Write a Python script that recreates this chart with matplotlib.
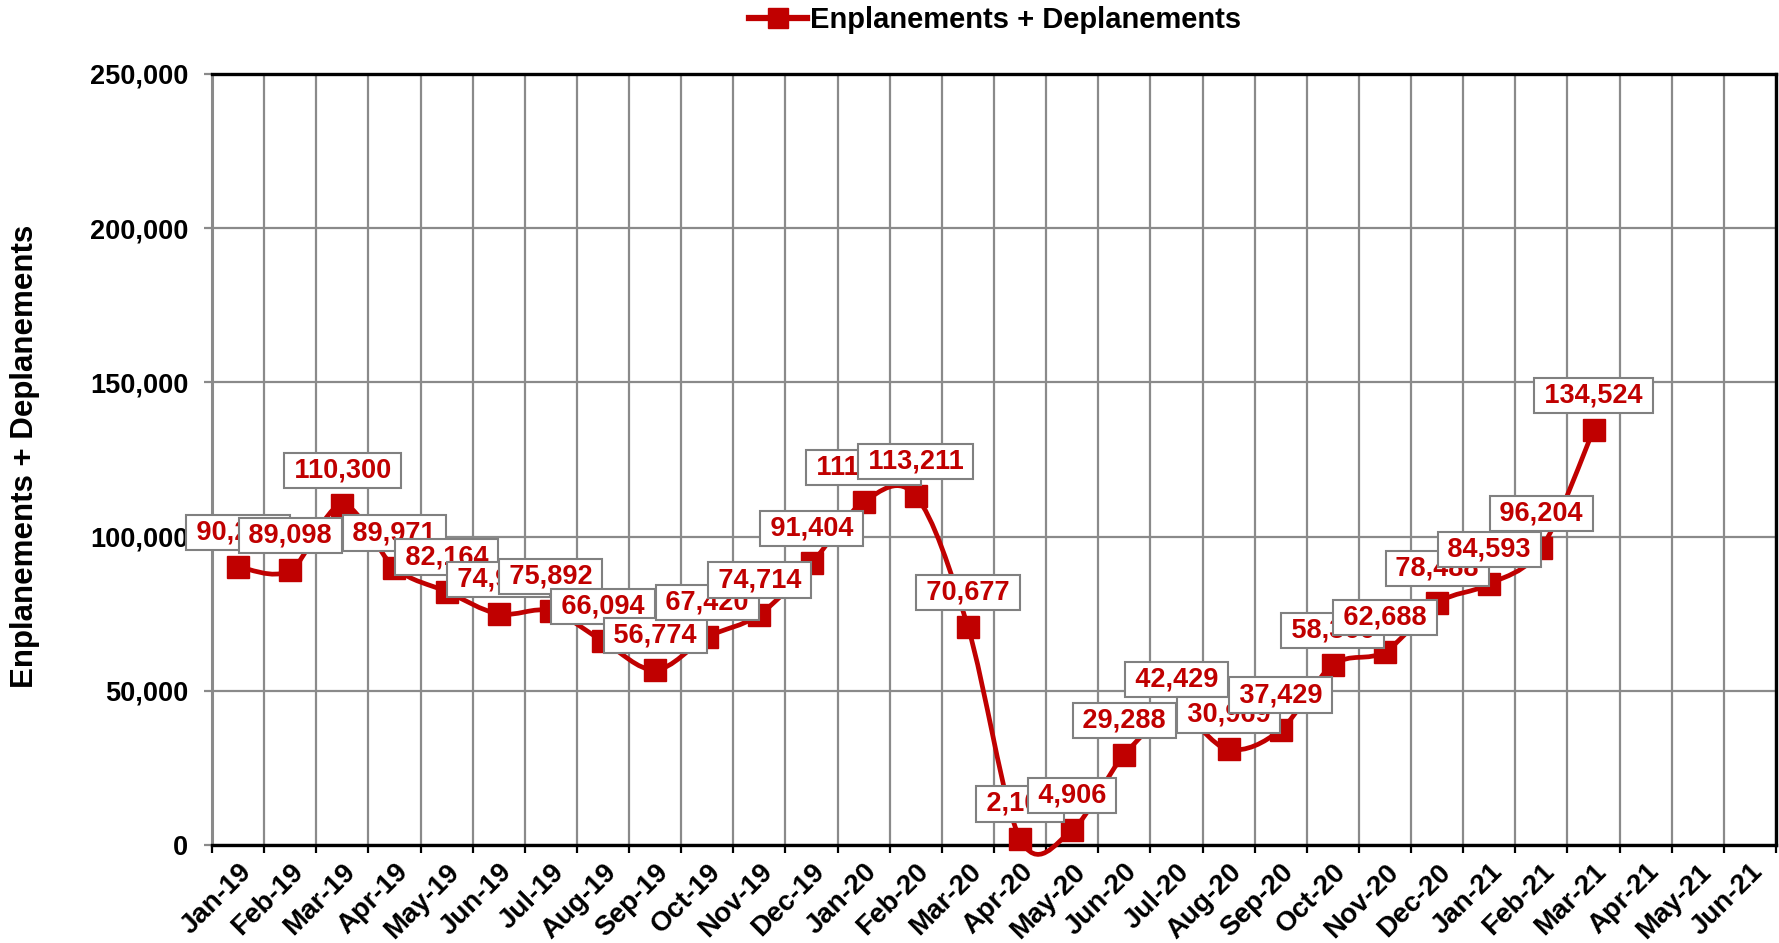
import numpy as np
import matplotlib.pyplot as plt
from matplotlib.path import Path
from matplotlib.patches import PathPatch
from matplotlib.lines import Line2D
from matplotlib.transforms import ScaledTranslation

plt.rcParams['font.family'] = ['Liberation Sans', 'DejaVu Sans']
plt.rcParams['font.weight'] = 'bold'

# month labels on the x axis (Jan-19 .. Jun-21)
months = ['Jan-19', 'Feb-19', 'Mar-19', 'Apr-19', 'May-19', 'Jun-19', 'Jul-19', 'Aug-19',
          'Sep-19', 'Oct-19', 'Nov-19', 'Dec-19', 'Jan-20', 'Feb-20', 'Mar-20', 'Apr-20',
          'May-20', 'Jun-20', 'Jul-20', 'Aug-20', 'Sep-20', 'Oct-20', 'Nov-20', 'Dec-20',
          'Jan-21', 'Feb-21', 'Mar-21', 'Apr-21', 'May-21', 'Jun-21']

# enplanements + deplanements, Jan-19 .. Mar-21
passengers = [90215, 89098, 110300, 89971, 82164, 74938, 75892, 66094, 56774, 67420,
              74714, 91404, 111257, 113211, 70677, 2106, 4906, 29288, 42429, 30969,
              37429, 58366, 62688, 78488, 84593, 96204, 134524]

yticks = [0, 50000, 100000, 150000, 200000, 250000]

red = '#C00000'
grey = '#8a8a8a'

fig = plt.figure(figsize=(17.79, 9.43), dpi=100)
ax = fig.add_axes([212 / 1779, 1 - 845 / 943, (1776 - 212) / 1779, (845 - 74) / 943])

x = np.arange(len(passengers)) + 0.5
y = np.array(passengers, dtype=float)

# smoothed line (catmull-rom style bezier like excel)
pts = np.column_stack([x, y])
ext = np.vstack([pts[0], pts, pts[-1]])
verts = [pts[0]]
codes = [Path.MOVETO]
for i in range(len(pts) - 1):
    p0, p1, p2, p3 = ext[i], ext[i + 1], ext[i + 2], ext[i + 3]
    c1 = p1 + (p2 - p0) / 6
    c2 = p2 - (p3 - p1) / 6
    verts += [c1, c2, p2]
    codes += [Path.CURVE4] * 3
curve = PathPatch(Path(verts, codes), facecolor='none', edgecolor=red, lw=3.4,
                  zorder=3, clip_on=False, capstyle='round', joinstyle='round')
ax.add_patch(curve)
ax.plot(x, y, 's', color=red, ms=15.5, zorder=4, clip_on=False)

for xi, yi in zip(x, passengers):
    ax.annotate('\u2009' + f'{yi:,}' + '\u2009', (xi, yi), xytext=(0, 15.5),
                textcoords='offset points', ha='center', va='bottom',
                fontsize=19.5, fontweight='bold', color=red, zorder=6,
                bbox=dict(boxstyle='square,pad=0.17', fc='white', ec='#808080', lw=1.5),
                annotation_clip=False)

ax.set_xlim(0, 30)
ax.set_ylim(0, 250000)
ax.set_xticks(np.arange(len(months)) + 0.5)
ax.set_xticklabels(months, rotation=45, ha='right', va='top', rotation_mode='anchor',
                   fontsize=20, fontweight='bold')
shift = ScaledTranslation(6 / 100, 0, fig.dpi_scale_trans)
for lab in ax.get_xticklabels():
    lab.set_transform(lab.get_transform() + shift)
ax.set_xticks(np.arange(0, 31), minor=True)
ax.tick_params(axis='x', which='major', length=0, pad=10)
ax.tick_params(axis='x', which='minor', length=6, width=1.6, color='black', direction='out')
ax.set_yticks(yticks)
ax.set_yticklabels([f'{v:,}' for v in yticks], fontsize=19.5, fontweight='bold')
ax.tick_params(axis='y', length=6, width=1.6, color=grey, pad=11)

ax.grid(True, axis='x', which='minor', color=grey, lw=1.6, zorder=0)
ax.grid(True, axis='y', which='major', color=grey, lw=1.6, zorder=0)
ax.set_axisbelow(True)

for s in ['top', 'right', 'bottom']:
    ax.spines[s].set_color('black')
    ax.spines[s].set_linewidth(2.4)
ax.spines['left'].set_color(grey)
ax.spines['left'].set_linewidth(2.2)

fig.text(25 / 1779, 1 - 456 / 943, 'Enplanements + Deplanements', rotation=90,
         ha='center', va='center', fontsize=22.5, fontweight='bold')

handle = Line2D([], [], color=red, lw=4.5, marker='s', ms=14)
fig.legend([handle], ['Enplanements + Deplanements'], loc='center',
           bbox_to_anchor=(995 / 1779, 1 - 20 / 943), frameon=False,
           prop={'size': 21, 'weight': 'bold'}, handlelength=2.0, handletextpad=0.12)

fig.savefig('out.png', dpi=100)
